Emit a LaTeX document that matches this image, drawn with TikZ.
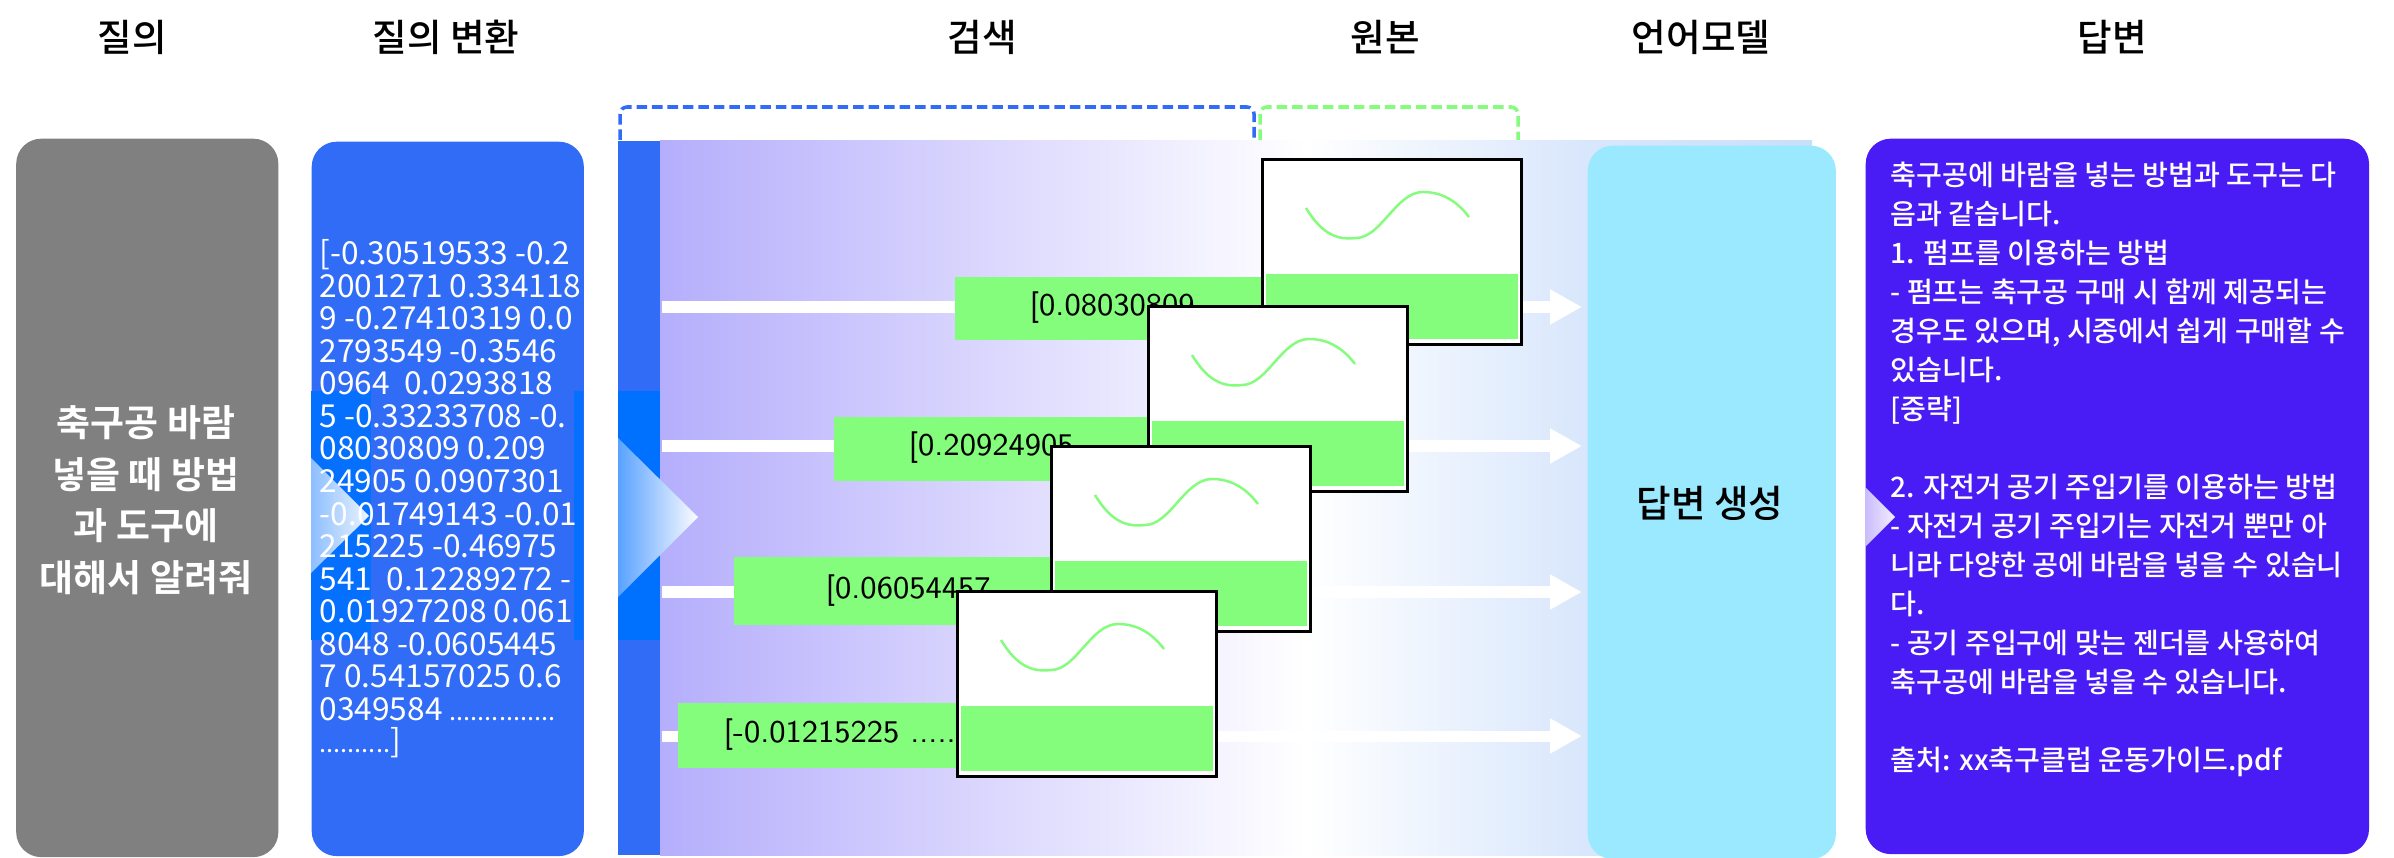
\documentclass[tikz,border=0pt]{standalone}
\usepackage{fontspec}
\setmainfont{Noto Sans CJK KR}
\newfontfamily\boldkr{Noto Sans CJK KR Bold}
\newfontfamily\mediumkr{Noto Sans CJK KR Medium}
\usetikzlibrary{arrows.meta}
\definecolor{graybox}{HTML}{808080}
\definecolor{querybox}{HTML}{316CF6}
\definecolor{barmid}{HTML}{0070FF}
\definecolor{bandleft}{HTML}{B5AEFC}
\definecolor{bandright}{HTML}{D9E7FC}
\definecolor{bandend}{HTML}{C8DFFA}
\definecolor{stripgreen}{HTML}{84FC7C}
\definecolor{modelbox}{HTML}{9BE9FE}
\definecolor{answerbox}{HTML}{4A1CF5}
\pgfdeclarehorizontalshading{bandshade}{100bp}{color(0bp)=(bandleft); color(25bp)=(bandleft); color(53bp)=(white); color(65bp)=(bandright); color(75bp)=(bandend); color(100bp)=(bandend)}
\newcommand{\smalldots}[1]{{\fontsize{7.2}{9.25}\selectfont #1}}
\tikzset{
  heading/.style={anchor=center,font=\fontsize{10.7}{12}\selectfont\mediumkr},
  bigbox/.style={anchor=north west,rounded corners=.25cm,inner sep=0pt},
  strip/.style={anchor=north west,fill=stripgreen,inner sep=0pt},
  striptext/.style={anchor=west,inner sep=0pt,font=\fontsize{9}{10}\selectfont\sffamily},
  card/.style={anchor=north west,draw=black,line width=.8pt,fill=white,minimum width=2.59cm,minimum height=1.85cm,inner sep=0pt},
  cardfill/.style={anchor=north west,fill=stripgreen,minimum width=2.52cm,minimum height=.65cm,inner sep=0pt},
  wave/.style={draw=stripgreen,line width=.7pt},
  rowarrow/.style={draw=white,line width=.11cm,-{Triangle[length=.32cm,width=.33cm]}},
  dashbox/.style={line width=1pt,dash pattern=on 3pt off 1.4pt,rounded corners=2pt}
}
\begin{document}
\begin{tikzpicture}[x=.01cm,y=-.01cm]
\useasboundingbox (0,0) rectangle (2394,858);
\node[heading] (h1) at (132,37) {질의};
\node[heading] (h2) at (446,37) {질의 변환};
\node[heading] (h3) at (982,37) {검색};
\node[heading] (h4) at (1385,37) {원본};
\node[heading] (h5) at (1701,37) {언어모델};
\node[heading] (h6) at (2112,37) {답변};
\draw[dashbox,draw=querybox] (620,140) -- (620,107) -- (1254,107) -- (1254,140);
\draw[dashbox,draw=stripgreen] (1260,140) -- (1260,107) -- (1518,107) -- (1518,140);
\node[bigbox,fill=graybox,minimum width=2.62cm,minimum height=7.18cm] (query) at (15.5,138) {};
\node[bigbox,fill=querybox,minimum width=2.72cm,minimum height=7.14cm] (vec) at (311,141) {};
\fill[barmid!90!querybox] (311,391) rectangle (371,640);
\fill[barmid!90!querybox] (574,391) rectangle (583,640);
\shade[left color=white!55!barmid,right color=white!92!barmid] (311,458) -- (369,516) -- (311,573) -- cycle;
% band behind the rows
\shade[shading=bandshade] (660,141) rectangle (1812,855);
\fill[querybox] (618,141) rectangle (660,855);
\fill[barmid] (618,391) rectangle (660,640);
\shade[left color=barmid!65!white,right color=white!96!bandleft] (618,438) -- (698,517) -- (618,597) -- cycle;
\foreach \i/\ya/\xs/\yt/\yb/\cx in {
  1/307/954/276/339/1261,
  2/446/833/416/480/1147,
  3/592/733/556/624/1050,
  4/736/677/702/767/956}{
  \coordinate (s\i) at (662,\ya);
  \coordinate (e\i) at (1582,\ya);
  \draw[rowarrow] (s\i) -- (e\i);
  \pgfmathsetmacro{\stripw}{(\cx+20-\xs)/100}
  \pgfmathsetmacro{\striph}{(\yb-\yt)/100}
  \node[strip,minimum width=\stripw cm,minimum height=\striph cm] (strip\i) at (\xs,\yt) {};
}
\node[striptext] (t1) at (1029,308) {[0.08030809};
\node[striptext] (t2) at (908,448) {[0.20924905};
\node[striptext] (t3) at (825,591) {[0.06054457};
\node[striptext] (t4) at (723,735) {[-0.01215225 ......};
\foreach \i/\cx/\cy in {1/1261/158,2/1147/305,3/1050/445,4/956/590}{
  \node[card] (card\i) at (\cx,\cy) {};
  \node[cardfill] (cardg\i) at (\cx+4,\cy+115) {};
  \draw[wave] (\cx+45,\cy+50) .. controls (\cx+62,\cy+78) and (\cx+78,\cy+82) .. (\cx+95,\cy+80) .. controls (\cx+120,\cy+80) and (\cx+135,\cy+34) .. (\cx+162,\cy+34) .. controls (\cx+180,\cy+34) and (\cx+195,\cy+42) .. (\cx+208,\cy+59);
}
\node[bigbox,fill=modelbox,minimum width=2.48cm,minimum height=7.13cm] (model) at (1587,145) {};
\node[heading] (gen) at (1710,503) {답변 생성};
\node[bigbox,fill=answerbox,minimum width=5.03cm,minimum height=7.15cm] (answer) at (1865,138) {};
\shade[left color=white!70!answerbox,right color=white!93!answerbox] (1865,487) -- (1895,517) -- (1865,547) -- cycle;
\node[anchor=center,text=white,align=center,font=\fontsize{10.5}{14.65}\selectfont\boldkr] (qtext) at (146,500) {축구공 바람\\넣을 때 방법\\과 도구에\\대해서 알려줘};
\node[anchor=north west,text=white,align=left,inner sep=0pt,font=\fontsize{9}{9.25}\selectfont] (vtext) at (319,239) {[-0.30519533 -0.2\\2001271 0.334118\\9 -0.27410319 0.0\\2793549 -0.3546\\0964~~0.0293818\\5 -0.33233708 -0.\\08030809 0.209\\24905 0.0907301\\-0.01749143 -0.01\\215225 -0.46975\\541~~0.12289272 -\\0.01927208 0.061\\8048 -0.0605445\\7 0.54157025 0.6\\0349584 \smalldots{...............}\\\smalldots{..........}]};
\node[anchor=north west,text=white,align=left,inner sep=0pt,font=\fontsize{8}{11.1}\selectfont\mediumkr] (atext) at (1890,161) {축구공에 바람을 넣는 방법과 도구는 다\\음과 같습니다.\\1. 펌프를 이용하는 방법\\- 펌프는 축구공 구매 시 함께 제공되는\\경우도 있으며, 시중에서 쉽게 구매할 수\\있습니다.\\{[중략]}\\[11.1pt]2. 자전거 공기 주입기를 이용하는 방법\\- 자전거 공기 주입기는 자전거 뿐만 아\\니라 다양한 공에 바람을 넣을 수 있습니\\다.\\- 공기 주입구에 맞는 젠더를 사용하여\\축구공에 바람을 넣을 수 있습니다.\\[11.1pt]출처: xx축구클럽 운동가이드.pdf};
\end{tikzpicture}
\end{document}
